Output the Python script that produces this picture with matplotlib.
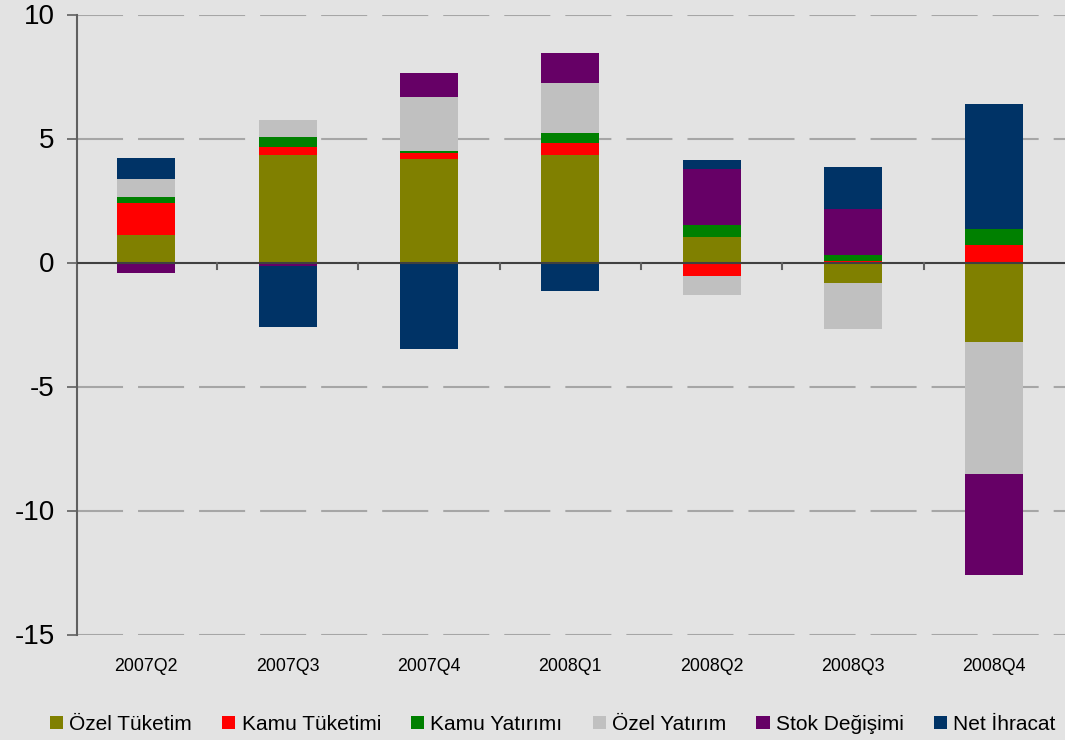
import matplotlib
matplotlib.use("Agg")
import matplotlib.pyplot as plt
import numpy as np
from matplotlib.patches import Patch

categories = ["2007Q2", "2007Q3", "2007Q4", "2008Q1", "2008Q2", "2008Q3", "2008Q4"]
series_names = ["Özel Tüketim", "Kamu Tüketimi", "Kamu Yatırımı", "Özel Yatırım", "Stok Değişimi", "Net İhracat"]
ozel_tuketim = [1.11, 4.33, 4.17, 4.33, 1.03, -0.83, -3.21]
kamu_tuketimi = [1.29, 0.32, 0.24, 0.48, -0.54, 0.06, 0.71]
kamu_yatirimi = [0.24, 0.40, 0.08, 0.40, 0.48, 0.24, 0.65]
ozel_yatirim = [0.73, 0.69, 2.18, 2.02, -0.77, -1.85, -5.32]
stok_degisimi = [-0.41, -0.14, 0.97, 1.21, 2.25, 1.85, -4.07]
net_ihracat = [0.85, -2.46, -3.49, -1.15, 0.38, 1.69, 5.04]
colors = ["#808000", "#FF0000", "#008000", "#C0C0C0", "#660066", "#003366"]
yticks = [10, 5, 0, -5, -10, -15]

bg = "#E3E3E3"
fig = plt.figure(figsize=(10.65, 7.40), dpi=100, facecolor=bg)
ax = fig.add_axes([77/1065, 1 - 634.5/740, 1 - 77/1065, (634.5 - 14.5)/740])
ax.set_facecolor(bg)
plt.rcParams['font.family'] = ['Liberation Sans', 'DejaVu Sans']

x = np.arange(len(categories))
data = [ozel_tuketim, kamu_tuketimi, kamu_yatirimi, ozel_yatirim, stok_degisimi, net_ihracat]
pos_bottom = np.zeros(len(categories))
neg_bottom = np.zeros(len(categories))
for name, vals, c in zip(series_names, data, colors):
    v = np.array(vals)
    bottom = np.where(v >= 0, pos_bottom, neg_bottom)
    ax.bar(x, v, width=0.41, bottom=bottom, color=c, label=name, zorder=3)
    pos_bottom += np.where(v >= 0, v, 0)
    neg_bottom += np.where(v < 0, v, 0)

ax.set_xlim(-0.49, len(categories) - 0.5)
ax.set_ylim(-15, 10)
ax.set_yticks(yticks)
ax.set_yticklabels([str(t) for t in yticks], fontsize=20, family=['Liberation Sans'])
for t in yticks:
    if t != 0:
        ax.axhline(t, color="#A6A6A6", lw=1.5, linestyle=(0, (22.1, 7.2)), zorder=1)
ax.axhline(0, color="#404040", lw=1.5, zorder=4)

for s in ["top", "right", "bottom"]:
    ax.spines[s].set_visible(False)
ax.spines["left"].set_color("#606060")
ax.spines["left"].set_linewidth(1.5)
ax.tick_params(axis="y", direction="out", length=7, width=1.2, color="#606060", pad=9)

ax.set_xticks(x)
ax.set_xticklabels(categories, fontsize=12.8, family=['Liberation Sans'])
ax.tick_params(axis="x", length=0, pad=17)
# boundary ticks on zero line
for b in x[:-1] + 0.5:
    ax.plot([b, b], [0, -0.25], color="#606060", lw=1.5, zorder=4, clip_on=False)

handles = [Patch(facecolor=c, edgecolor='none') for c in colors]
fig.legend(handles, series_names, loc="center", bbox_to_anchor=(0.519, 0.021), ncol=6,
           frameon=False, handlelength=0.63, handleheight=0.63,
           handletextpad=0.31, columnspacing=1.44, prop={'family': 'Liberation Sans', 'size': 15})

fig.savefig("out.png", dpi=100, facecolor=bg)
